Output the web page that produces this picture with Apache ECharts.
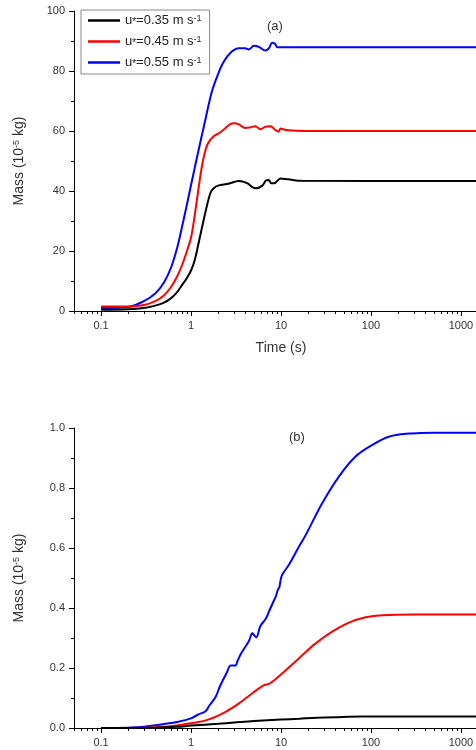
<!DOCTYPE html>
<html>
<head>
<meta charset="utf-8">
<script src="https://cdn.jsdelivr.net/npm/echarts@6/dist/echarts.min.js"></script>
<style>
  html, body { margin: 0; padding: 0; overflow: hidden; background: #fff; }
  #main { width: 560px; height: 750px; }
</style>
</head>
<body>
<div id="main"></div>
<script>
// series names
var seriesNames = ['u*=0.35 m s-1', 'u*=0.45 m s-1', 'u*=0.55 m s-1'];
var seriesColors = ['#000000', '#ff0000', '#0000ff'];

// x axis (log10 time) ticks
var xTickTimes = [0.1, 1, 10, 100, 1000];
var xTickLabels = ['0.1', '1', '10', '100', '1000'];

// panel (a): mass (1e-5 kg) vs time (s)
var timeA1 = [0.1, 0.2, 0.3, 0.4, 0.5, 0.6, 0.7, 0.8, 0.9, 1.0, 1.1, 1.2, 1.35, 1.5, 1.65, 1.8, 2.0, 2.6, 3.4, 4.2, 4.8, 5.3, 6.2, 6.8, 7.3, 7.8, 8.4, 9.9, 12, 17, 2000];
var massA1 = [0.4, 0.6, 1.0, 1.8, 2.8, 4.3, 6.3, 8.8, 11, 13.5, 17, 22, 29, 35, 39.5, 41, 41.8, 42.4, 43.3, 42.6, 41.3, 40.9, 41.8, 43.5, 43.7, 42.6, 42.6, 44.2, 43.9, 43.4, 43.3];

var timeA2 = [0.1, 0.2, 0.3, 0.4, 0.5, 0.6, 0.7, 0.8, 0.9, 1.0, 1.1, 1.2, 1.3, 1.4, 1.55, 1.8, 2.1, 2.4, 2.7, 3.0, 3.4, 4.0, 4.5, 5.2, 5.9, 6.7, 7.6, 8.7, 9.4, 9.9, 11.3, 19, 2000];
var massA2 = [1.5, 1.5, 2.0, 3.3, 5.2, 8, 11.5, 15.5, 20, 24.5, 32, 40, 47, 52, 56, 58.3, 59.5, 60.9, 62.2, 62.6, 62.2, 61.0, 61.2, 61.6, 60.6, 61.4, 61.6, 60.3, 59.8, 60.8, 60.3, 60, 60];

var timeA3 = [0.1, 0.15, 0.2, 0.3, 0.4, 0.5, 0.6, 0.7, 0.8, 0.9, 1.0, 1.2, 1.4, 1.7, 2.0, 2.3, 2.8, 3.4, 4.0, 4.4, 5.0, 5.7, 6.7, 7.3, 8.0, 8.6, 9.1, 10, 2000];
var massA3 = [1.0, 1.1, 1.3, 3.3, 5.8, 9.5, 14.5, 21, 28.5, 35.5, 42, 53, 62, 73, 79, 83, 86.3, 87.6, 87.6, 87.2, 88.4, 88.0, 86.8, 87.5, 89.4, 89, 87.9, 87.9, 87.9];

// panel (b)
var timeB1 = [0.1, 0.4, 0.7, 1, 2, 3, 5, 10, 16, 25, 40, 80, 150, 2000];
var massB1 = [0, 0.001, 0.004, 0.008, 0.014, 0.018, 0.023, 0.028, 0.031, 0.034, 0.036, 0.038, 0.038, 0.038];

var timeB2 = [0.1, 0.3, 0.52, 1.0, 1.52, 2.43, 3.41, 4.8, 6.46, 7.36, 8.0, 10.3, 15.8, 24.3, 37.1, 56.9, 87.3, 134, 312, 2000];
var massB2 = [0, 0.001, 0.004, 0.016, 0.027, 0.054, 0.082, 0.116, 0.143, 0.147, 0.154, 0.182, 0.232, 0.282, 0.321, 0.351, 0.369, 0.376, 0.378, 0.378];

var timeB3 = [0.1, 0.2, 0.3, 0.4, 0.5, 0.7, 1.0, 1.2, 1.45, 1.6, 1.88, 2.1, 2.5, 2.76, 3.1, 3.3, 3.6, 4.0, 4.4, 4.8, 5.0, 5.3, 5.9, 6.8, 7.4, 8.2, 8.8, 9.2, 9.6, 10.0, 10.5, 12.3, 15.8, 18.8, 28.7, 44, 67, 103, 158, 287, 500, 2000];
var massB3 = [0, 0.001, 0.004, 0.009, 0.013, 0.02, 0.032, 0.045, 0.056, 0.075, 0.104, 0.14, 0.185, 0.208, 0.208, 0.225, 0.248, 0.27, 0.29, 0.316, 0.31, 0.302, 0.34, 0.365, 0.39, 0.42, 0.44, 0.46, 0.47, 0.50, 0.515, 0.545, 0.604, 0.643, 0.749, 0.838, 0.904, 0.943, 0.971, 0.982, 0.984, 0.984];

var timeMin = 0.05;
var timeMax = 2000;

function lg(v) {
  return Math.log10(v);
}

function pairs(times, values) {
  return times.map(function (t, i) {
    return [lg(t), values[i]];
  });
}

// minor tick positions on log axis
var minorTicks = [];
for (var e = -2; e <= 3; e++) {
  for (var k = 2; k <= 9; k++) {
    var v = k * Math.pow(10, e);
    if (v >= timeMin - 1e-9 && v <= timeMax + 1e-9) {
      minorTicks.push(lg(v));
    }
  }
}
var majorTicks = xTickTimes.map(lg);

var fontName = 'Liberation Sans, Arial, sans-serif';
var labelFont = {
  color: '#333',
  fontSize: 11,
  fontFamily: fontName
};

function buildXAxis(gridIndex) {
  return [{
    type: 'value',
    gridIndex: gridIndex,
    position: 'bottom',
    min: lg(timeMin),
    max: lg(timeMax),
    splitLine: { show: false },
    axisLine: { onZero: false, lineStyle: { color: '#000', width: 1 } },
    axisTick: { customValues: majorTicks, length: 5, lineStyle: { color: '#000' } },
    axisLabel: Object.assign({
      customValues: majorTicks,
      margin: 9,
      formatter: function (val) {
        var idx = majorTicks.findIndex(function (m) { return Math.abs(m - val) < 1e-6; });
        return idx >= 0 ? xTickLabels[idx] : '';
      }
    }, labelFont)
  }, {
    type: 'value',
    gridIndex: gridIndex,
    position: 'bottom',
    min: lg(timeMin),
    max: lg(timeMax),
    splitLine: { show: false },
    axisLine: { show: false, onZero: false },
    axisTick: { customValues: minorTicks, length: 3, lineStyle: { color: '#000' } },
    axisLabel: { show: false }
  }];
}

function buildYAxis(gridIndex, max, interval, digits) {
  return {
    type: 'value',
    gridIndex: gridIndex,
    position: 'left',
    min: 0,
    max: max,
    interval: interval,
    splitLine: { show: false },
    axisLine: { show: true, onZero: false, lineStyle: { color: '#000', width: 1 } },
    axisTick: { show: true, length: 5, lineStyle: { color: '#000' } },
    minorTick: { show: true, splitNumber: 2, length: 3, lineStyle: { color: '#000' } },
    axisLabel: Object.assign({
      margin: 9,
      formatter: function (val) { return val.toFixed(digits); }
    }, labelFont),
    name: 'Mass (10{s|-5} kg)',
    nameLocation: 'middle',
    nameGap: 48,
    nameTextStyle: {
      color: '#333',
      fontSize: 14,
      fontFamily: fontName,
      rich: {
        s: { fontSize: 9, verticalAlign: 'top', color: '#333', fontFamily: fontName }
      }
    }
  };
}

var xAxes = buildXAxis(0).concat(buildXAxis(1));
xAxes[0].name = 'Time (s)';
xAxes[0].nameLocation = 'middle';
xAxes[0].nameGap = 30;
xAxes[0].nameTextStyle = { color: '#333', fontSize: 14, fontFamily: fontName };

var dataA = [pairs(timeA1, massA1), pairs(timeA2, massA2), pairs(timeA3, massA3)];
var dataB = [pairs(timeB1, massB1), pairs(timeB2, massB2), pairs(timeB3, massB3)];

function lineSeries(name, i, xIdx, yIdx, data) {
  return {
    name: name,
    type: 'line',
    xAxisIndex: xIdx,
    yAxisIndex: yIdx,
    data: data,
    showSymbol: false,
    symbol: 'none',
    smooth: 0.35,
    lineStyle: { color: seriesColors[i], width: 2 },
    itemStyle: { color: seriesColors[i] },
    z: 3 - i
  };
}

var series = [];
seriesNames.forEach(function (name, i) {
  series.push(lineSeries(name, i, 0, 0, dataA[i]));
});
seriesNames.forEach(function (name, i) {
  series.push(lineSeries(name, i, 2, 1, dataB[i]));
});

var legendLabels = {
  'u*=0.35 m s-1': '{n|u}{b|*}{n|=0.35 m s}{p|-1}',
  'u*=0.45 m s-1': '{n|u}{b|*}{n|=0.45 m s}{p|-1}',
  'u*=0.55 m s-1': '{n|u}{b|*}{n|=0.55 m s}{p|-1}'
};

var chart = echarts.init(document.getElementById('main'), null, { renderer: 'canvas' });
chart.setOption({
  animation: false,
  backgroundColor: '#fff',
  title: [{
    text: '(a)',
    left: 262,
    top: 15,
    textStyle: { color: '#333', fontSize: 13, fontWeight: 'normal', fontFamily: fontName }
  }, {
    text: '(b)',
    left: 284,
    top: 426,
    textStyle: { color: '#333', fontSize: 13, fontWeight: 'normal', fontFamily: fontName }
  }],
  legend: {
    data: seriesNames,
    orient: 'vertical',
    left: 81,
    top: 10,
    padding: [4, 8, 5, 7],
    itemGap: 8,
    itemWidth: 32,
    itemHeight: 2.5,
    icon: 'rect',
    backgroundColor: '#fff',
    borderColor: '#888',
    borderWidth: 1,
    borderRadius: 0,
    selectedMode: false,
    formatter: function (name) { return legendLabels[name]; },
    textStyle: {
      color: '#222',
      fontSize: 13,
      fontFamily: fontName,
      rich: {
        n: { fontSize: 13, color: '#222', fontFamily: fontName },
        b: { fontSize: 10, color: '#222', verticalAlign: 'bottom', fontFamily: fontName },
        p: { fontSize: 9, color: '#222', verticalAlign: 'top', fontFamily: fontName }
      }
    }
  },
  grid: [
    { left: 74, top: 11, width: 414, height: 300 },
    { left: 74, top: 428, width: 414, height: 300 }
  ],
  xAxis: xAxes,
  yAxis: [
    buildYAxis(0, 100, 20, 0),
    buildYAxis(1, 1.0, 0.2, 1)
  ],
  series: series
});
</script>
</body>
</html>
